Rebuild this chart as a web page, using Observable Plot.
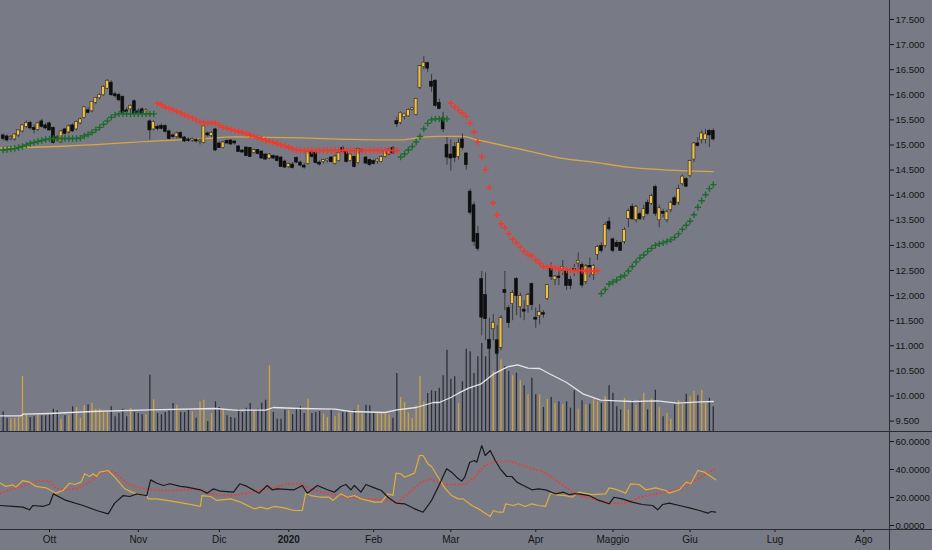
<!DOCTYPE html>
<html><head><meta charset="utf-8">
<script src="https://cdn.jsdelivr.net/npm/d3@7"></script>
<script src="https://cdn.jsdelivr.net/npm/@observablehq/plot@0.6"></script>
<style>
html,body{margin:0;padding:0;background:#787b86;}
#chart{position:relative;width:932px;height:550px;background:#787b86;overflow:hidden;font-family:"Liberation Sans",Arial,sans-serif;}
#chart svg{position:absolute;left:0;}
.vline{position:absolute;left:889px;top:0;width:1px;height:550px;background:#2a2c33;}
.hline{position:absolute;left:0;width:932px;height:1px;background:#2a2c33;}
</style></head><body><div id="chart"></div>
<script>
// ---------------- DATA ----------------
const firstIndex = -12; // trading-day index of first candle (0 = 1 Oct 2019)
const open = [
15.18,15.16,15.14,15.12,15.20,15.28,15.37,15.43,15.33,15.31,
15.46,15.38,15.42,15.33,15.14,15.06,15.30,15.26,15.38,15.32,
15.44,15.55,15.68,15.68,15.85,15.94,16.00,16.13,16.23,16.00,
15.99,15.95,15.68,15.72,15.86,15.66,15.70,15.63,15.46,15.32,
15.35,15.37,15.37,15.26,15.18,15.17,15.23,15.14,15.10,15.10,
15.09,15.08,15.05,15.22,15.19,15.30,15.02,14.95,15.07,15.08,
15.06,14.96,14.88,14.94,14.93,14.85,14.89,14.86,14.80,14.74,
14.77,14.76,14.74,14.66,14.57,14.60,14.73,14.64,14.58,14.63,
14.84,14.83,14.64,14.67,14.69,14.74,14.63,14.69,14.93,14.85,
14.69,14.75,14.65,14.88,14.74,14.69,14.67,14.68,14.67,14.77,
14.82,14.93,15.47,15.45,15.57,15.58,15.71,15.61,16.15,16.56,
16.62,16.25,16.27,15.83,15.52,14.99,14.80,14.95,14.77,15.10,
14.82,14.06,13.79,13.22,12.32,12.00,11.11,11.34,11.10,10.97,
12.10,11.74,11.84,12.32,11.78,11.71,11.80,12.22,11.55,11.60,
11.64,11.94,12.52,12.32,12.37,12.50,12.49,12.30,12.52,12.65,
12.60,12.28,12.58,12.42,12.82,12.98,13.00,13.46,13.11,13.04,
13.04,13.08,13.54,13.76,13.51,13.61,13.57,13.84,13.84,14.15,
13.51,13.66,13.51,13.71,13.93,13.86,14.23,14.31,14.39,14.72,
15.02,15.11,15.11,15.27,15.27];
const high = [
15.22,15.20,15.19,15.23,15.30,15.41,15.48,15.47,15.40,15.45,
15.51,15.43,15.46,15.36,15.18,15.29,15.33,15.40,15.42,15.48,
15.53,15.76,15.74,15.87,15.95,16.02,16.18,16.30,16.28,16.05,
16.03,15.98,15.74,15.80,15.90,15.72,15.74,15.72,15.50,15.48,
15.40,15.42,15.40,15.30,15.22,15.26,15.26,15.17,15.14,15.14,
15.13,15.12,15.40,15.26,15.27,15.33,15.06,15.07,15.10,15.10,
15.08,14.99,14.91,14.96,14.95,14.92,14.91,14.88,14.83,14.83,
14.80,14.79,14.77,14.70,14.64,14.65,14.76,14.68,14.63,14.89,
14.88,14.86,14.68,14.72,14.73,14.77,14.80,14.86,14.97,14.88,
14.83,14.78,14.94,14.92,14.77,14.72,14.70,14.73,14.78,14.90,
14.93,14.97,15.55,15.66,15.63,15.72,15.75,15.93,16.58,16.76,
16.65,16.40,16.30,15.92,15.65,15.15,15.10,15.05,15.12,15.22,
14.85,14.12,13.86,13.38,12.48,12.45,11.55,11.62,11.40,11.60,
12.48,11.80,12.10,12.36,12.05,11.90,12.05,12.25,11.75,11.82,
11.70,12.22,12.65,12.40,12.50,12.70,12.55,12.38,12.62,12.85,
12.65,12.62,12.75,12.62,13.00,13.05,13.45,13.55,13.15,13.10,
13.08,13.35,13.72,13.82,13.80,13.66,13.80,13.90,14.02,14.20,
13.80,13.72,13.70,13.88,13.98,14.20,14.40,14.35,14.70,15.05,
15.15,15.28,15.31,15.31,15.32];
const low = [
15.08,15.06,15.08,15.08,15.15,15.24,15.33,15.30,15.22,15.27,
15.34,15.30,15.27,15.02,15.08,15.03,15.20,15.22,15.25,15.28,
15.40,15.52,15.62,15.64,15.80,15.90,15.97,16.10,15.97,15.93,
15.86,15.60,15.60,15.66,15.58,15.60,15.60,15.60,15.10,15.28,
15.28,15.30,15.24,15.10,15.12,15.12,15.12,15.05,15.05,15.05,
15.04,15.00,15.02,15.16,15.15,14.87,14.93,14.92,15.01,14.99,
15.00,14.85,14.84,14.77,14.75,14.82,14.80,14.72,14.69,14.71,
14.71,14.66,14.55,14.53,14.53,14.52,14.63,14.56,14.52,14.60,
14.74,14.62,14.58,14.62,14.64,14.64,14.60,14.66,14.84,14.64,
14.66,14.54,14.62,14.84,14.61,14.57,14.60,14.62,14.64,14.74,
14.79,14.81,15.35,15.40,15.50,15.55,15.68,15.58,16.10,16.50,
16.45,16.05,15.75,15.70,15.25,14.60,14.48,14.65,14.70,14.90,
14.50,13.60,12.98,12.88,11.20,11.10,10.75,11.10,10.78,10.90,
11.70,11.35,11.50,11.60,11.55,11.50,11.65,11.70,11.35,11.42,
11.55,11.90,12.30,12.20,12.20,12.40,12.10,12.12,12.38,12.50,
12.15,12.22,12.35,12.30,12.70,12.85,12.95,13.28,12.85,12.95,
12.88,13.02,13.35,13.50,13.45,13.50,13.50,13.60,13.80,13.58,
13.35,13.55,13.45,13.65,13.78,13.80,14.18,14.15,14.35,14.65,
14.96,15.02,15.02,14.95,15.08];
const close = [
15.13,15.10,15.15,15.20,15.28,15.38,15.43,15.34,15.31,15.42,
15.37,15.34,15.30,15.05,15.12,15.26,15.23,15.36,15.28,15.45,
15.50,15.74,15.65,15.85,15.93,15.99,16.15,16.27,16.00,15.98,
15.90,15.65,15.66,15.77,15.62,15.65,15.63,15.68,15.30,15.45,
15.33,15.33,15.27,15.13,15.17,15.22,15.15,15.08,15.09,15.11,
15.08,15.08,15.36,15.20,15.23,14.90,14.95,15.04,15.04,15.02,
15.04,14.87,14.86,14.79,14.77,14.89,14.83,14.74,14.72,14.80,
14.74,14.69,14.57,14.56,14.61,14.55,14.66,14.60,14.56,14.86,
14.77,14.65,14.62,14.69,14.70,14.67,14.76,14.83,14.87,14.67,
14.80,14.57,14.91,14.89,14.64,14.61,14.63,14.70,14.75,14.87,
14.90,14.84,15.42,15.63,15.60,15.69,15.72,15.91,16.56,16.63,
16.53,16.17,15.79,15.73,15.32,14.76,14.74,14.75,15.03,14.95,
14.61,13.66,13.08,12.94,11.57,11.54,10.95,11.45,10.85,11.54,
12.06,11.46,12.04,12.00,11.98,11.69,12.00,11.82,11.53,11.66,
11.63,12.20,12.38,12.37,12.36,12.56,12.20,12.20,12.51,12.68,
12.21,12.57,12.57,12.58,12.96,12.90,13.40,13.33,12.90,12.98,
12.90,13.30,13.67,13.53,13.76,13.53,13.71,13.64,13.97,13.64,
13.73,13.64,13.65,13.84,13.81,14.11,14.36,14.18,14.67,15.02,
14.99,15.22,15.20,15.20,15.12];
const volume = [
19.7,13.3,12.7,13.3,14,55,16.7,14,14.7,16.7,
15.7,15.7,16.7,22.3,20.7,11.7,15.7,16.3,24.7,24,
13.3,25.7,26.7,28,22.3,22.3,19,19,24.7,14.7,
18,22.3,14.7,23.3,19,18,16.7,16.7,56.3,31.7,
18,16.7,19,20.7,28,26.3,19,19,22.3,19.7,
13.3,29.7,31.3,10,18,29.7,24,22.3,15.7,14,
13.3,22.3,19,23.3,28,20.7,22.3,28.3,31.3,65.7,
19,12.3,12.3,21.3,20.7,16.7,22.3,24.7,18,32.3,
18,19,20,17.3,14,21.7,14.7,18,19,20.7,
18,21.3,26.3,17.3,26.3,25.7,19,19,18,17.3,
16.7,13.3,58,34,29,18.3,13,25.7,54.7,29.7,
38,40.7,40,43.3,55.7,81.3,52.3,54.7,28,49.7,
82.3,79.7,58,74.7,88,74.7,86,60,84,71.7,
65,60,55.7,58.3,50.7,45.7,36.7,53.3,36.7,36.7,
24,32.3,34,28,29.7,27.3,29.7,23.3,40.7,22.3,
30.7,26.7,27.3,32.3,29.7,28,34.7,45.7,38.3,24.7,
21.7,33,21.7,30.7,26.3,31.3,38.3,21.7,32.3,41.3,
24,14.7,18,12.3,26.7,30.7,26.7,37.3,34.7,40,
35.7,41.3,28,33.3,24.7];

// Parabolic SAR: [start index, values]
const sarBull = [
 [-12,[14.90,14.91,14.92,14.93,14.95,14.97,15.00,15.03,15.05,15.07,15.09,15.11,15.12,15.13,15.13,15.13,15.13,15.13,15.13,15.13,15.14,15.18,15.21,15.25,15.30,15.35,15.41,15.48,15.55,15.60,15.62,15.62,15.62,15.62,15.62,15.62,15.62,15.62,15.62,15.62]],
 [91,[14.76,14.82,14.90,14.97,15.06,15.17,15.32,15.43,15.50,15.52,15.52,15.52,15.52]],
 [143,[12.04,12.12,12.23,12.27,12.31,12.37,12.40,12.49,12.58,12.67,12.75,12.81,12.88,12.94,13.00,13.03,13.05,13.08,13.11,13.16,13.23,13.32,13.40,13.48,13.61,13.76,13.89,14.01,14.13,14.21]]
];
const sarBear = [
 [28,[15.83,15.80,15.76,15.73,15.70,15.67,15.64,15.60,15.57,15.54,15.50,15.46,15.44,15.44,15.44,15.44,15.39,15.35,15.33,15.31,15.29,15.27,15.25,15.23,15.20,15.17,15.15,15.12,15.09,15.07,15.05,15.03,15.00,14.98,14.95,14.92,14.90,
   14.89,14.89,14.89,14.89,14.89,14.89,14.89,14.89,14.89,14.89,14.89,14.89,14.89,14.89,14.89,14.89,14.89,14.89,14.89,14.89,14.89,14.89,14.89,14.89,14.89,14.89]],
 [104,[15.83,15.76,15.69,15.64,15.57,15.43,15.26,15.06,14.77,14.51,14.15,13.85,13.61,13.43,13.35,13.23,13.12,13.05,12.96,12.88,12.82,12.79,12.71,12.65,12.58,12.57,12.57,12.55,12.53,12.52,12.51,12.51,12.50,12.50,12.50,12.49,12.49,12.49,12.49]]
];

// moving averages: [index, value]
const priceMA = [[-12.7,14.94],[5,14.98],[28,15.08],[39,15.12],[48,15.16],[65,15.14],[78,15.11],[91,15.10],[96,15.15],[101,15.17],[107,15.17],[111,15.10],[118.7,14.97],[125.4,14.86],[132.4,14.74],[141,14.66],[149.8,14.56],[158.3,14.51],[166.9,14.48],[172,14.47]];
const volumeMA = [[-12.7,15.7],[-7.5,15.7],[-6.7,17.3],[0,18],[11,20],[26,21.7],[43,23],[48,21.3],[56,21.3],[58,24],[65,23],[74,22.3],[78,20],[87,19],[90,21.7],[95,24],[99.5,29],[101,29],[104,34],[106,38.3],[108.6,43.3],[111.7,47.3],[115,57.3],[118.7,64.7],[121.3,66.7],[124,63.3],[127,63],[129.8,57.3],[134,49],[138.4,37.3],[142.8,31.3],[147,30.7],[151,30],[157.5,30.7],[162.7,28.3],[168.7,29.7],[172,30]];

// lower pane (DMI): [index, value]
const diPlus = [[-12.7,30.2],[-11.3,27.9],[-9.5,29.0],[-8.7,27.4],[-6.9,32.1],[-5.2,31.0],[-3.5,27.9],[-0.9,26.9],[1.7,23.1],[3.5,25.0],[5.2,30.2],[6.5,29.3],[8.2,31.0],[9.1,36.9],[10.4,35.0],[11.3,36.9],[12.2,35.0],[13.0,38.1],[15.2,39.3],[16.9,34.5],[19.5,26.2],[21.7,23.3],[25.2,21.4],[25.6,19.0],[27.8,19.0],[30.4,17.9],[34.7,16.0],[39.1,13.6],[39.5,21.4],[41.7,20.7],[43.4,17.9],[46.9,19.0],[49.5,16.7],[53.0,11.9],[54.7,13.1],[56.4,11.9],[58.2,13.6],[60.8,12.6],[63.4,10.7],[65.5,10.7],[66.4,23.1],[67.7,21.4],[70.3,20.2],[72.5,20.2],[73.4,17.9],[75.5,22.6],[77.3,20.2],[79.0,21.4],[80.7,19.0],[82.5,17.9],[84.2,16.7],[86.0,16.7],[87.7,22.6],[89.0,21.4],[89.8,37.4],[91.1,36.9],[92.0,34.5],[94.6,37.4],[95.9,50.0],[96.8,50.0],[98.1,44.0],[99.0,42.1],[100.7,34.5],[102.4,26.9],[104.2,21.4],[105.9,19.0],[107.2,19.0],[109.4,14.3],[111.1,11.9],[112.9,8.8],[114.2,6.4],[115.0,10.7],[116.3,9.5],[117.6,9.5],[118.2,15.5],[120.2,14.3],[121.5,15.5],[123.3,13.6],[125.0,15.5],[126.7,14.3],[128.5,13.6],[129.8,23.1],[131.5,21.9],[133.7,21.4],[135.4,20.2],[137.2,23.8],[140.6,22.1],[144.1,22.6],[145.0,26.9],[146.3,26.2],[147.6,25.0],[149.3,23.1],[150.6,29.8],[152.8,29.3],[154.5,25.5],[157.1,26.9],[159.7,25.0],[160.6,23.1],[163.2,25.5],[165.0,31.0],[166.2,29.8],[168.0,39.3],[169.7,38.1],[171.0,35.7],[172.6,32.6]];
const diMinus = [[-12.7,14.3],[-9.5,13.6],[-6.9,13.1],[-5.2,11.2],[-4.3,14.3],[-1.7,13.6],[0.0,15.2],[1.0,22.6],[4.3,17.9],[8.7,14.3],[12.2,10.7],[15.2,8.3],[16.9,16.0],[19.1,21.4],[20.8,20.7],[22.6,22.6],[25.2,21.4],[26.2,32.6],[27.8,30.2],[29.5,28.6],[31.2,29.8],[33.9,27.9],[35.6,27.4],[39.1,25.5],[40.8,23.1],[42.5,26.2],[44.3,24.5],[47.7,23.8],[49.3,29.8],[51.2,27.9],[54.3,23.1],[56.4,28.6],[57.7,25.5],[59.0,26.2],[63.4,25.5],[65.5,28.6],[66.8,23.1],[69.4,28.6],[72.0,25.5],[73.8,23.8],[75.5,27.9],[76.8,29.3],[78.1,25.5],[79.0,28.6],[80.7,23.8],[82.0,29.3],[84.2,26.9],[86.0,25.0],[87.7,20.2],[89.8,16.0],[92.0,15.5],[94.6,11.9],[96.8,9.5],[98.1,14.3],[99.0,17.9],[100.7,27.4],[102.9,40.5],[104.2,38.1],[105.5,34.5],[106.8,31.7],[107.6,34.5],[108.9,45.2],[110.1,46.4],[110.7,45.2],[112.0,57.1],[112.9,50.0],[114.2,53.6],[115.5,46.4],[116.8,40.5],[118.5,35.0],[119.8,35.0],[121.1,31.0],[122.8,28.6],[125.0,25.5],[126.7,26.2],[128.5,25.5],[131.1,22.6],[133.2,23.8],[134.6,22.1],[135.9,22.6],[137.2,22.6],[139.8,21.4],[142.4,17.9],[145.0,15.5],[146.3,20.2],[148.4,19.0],[151.0,16.7],[153.6,15.0],[156.3,14.3],[157.6,11.2],[158.9,15.0],[160.6,16.0],[163.2,14.3],[165.8,12.6],[168.4,10.7],[170.6,8.8],[171.4,10.0],[172.6,9.5]];
const adx = [[-12.7,23.1],[-10.4,25.5],[-7.8,27.4],[-5.2,30.2],[-2.6,31.7],[0,31.7],[1.7,26.5],[4.3,25.5],[7.8,26.9],[10.4,31.0],[13.0,36.9],[15.6,39.3],[17.4,36.9],[20.0,30.2],[22.6,26.9],[25.2,26.2],[28.6,25.0],[32.1,25.0],[35.6,25.5],[39.1,25.5],[41.7,22.6],[44.3,21.4],[47.7,21.4],[51.2,23.1],[54.7,25.5],[58.2,26.9],[61.6,29.8],[65.1,29.8],[67.7,26.2],[70.3,23.8],[73.8,22.1],[77.3,20.2],[80.7,19.0],[84.2,19.0],[87.7,17.9],[90.3,16.7],[92.9,22.6],[96.4,31.0],[99.0,33.3],[101.6,29.3],[104.2,29.3],[107.6,29.3],[110.2,34.5],[112.8,42.9],[115.5,46.0],[118.9,46.0],[121.5,44.0],[125.0,40.5],[127.6,38.8],[130.2,34.5],[133.7,27.4],[137.2,21.4],[140.6,19.0],[144.1,16.7],[147.6,15.5],[150.2,16.7],[152.8,20.2],[156.3,22.1],[159.7,23.8],[162.3,25.5],[165.0,28.6],[167.5,32.6],[170.1,36.9],[172.6,40.5]];

// axis ticks
const priceTicks = [9.5,10,10.5,11,11.5,12,12.5,13,13.5,14,14.5,15,15.5,16,16.5,17,17.5];
const dmiTicks = [0,20,40,60];
const monthLabels = ["Ott","Nov","Dic","2020","Feb","Mar","Apr","Maggio","Giu","Lug","Ago"];
const monthIdx = [0,23,44,62,84,104,126,146,166,188,211];

// ---------------- BUILD ----------------
const candles = open.map((o, k) => ({i: firstIndex + k, open: o, high: high[k], low: low[k], close: close[k], volume: volume[k], up: close[k] >= o}));
const expand = (segs) => segs.flatMap(([s, vals]) => vals.map((v, k) => ({i: s + k, v})));
const bull = expand(sarBull), bear = expand(sarBear);

const X_DOMAIN = [-12.7, 217.67];
const FONT = '"Liberation Sans", Arial, sans-serif';
const chart = document.getElementById("chart");

const volPlot = Plot.plot({
  width: 889, height: 432, marginLeft: 0, marginRight: 0, marginTop: 331, marginBottom: 1,
  x: {domain: X_DOMAIN, axis: null},
  y: {domain: [0, 100], axis: null},
  style: {background: "transparent"},
  marks: [
    Plot.ruleX(candles, {x: "i", y1: 0, y2: "volume", stroke: d => d.up ? "#cfa23c" : "#2c2e36", strokeWidth: 1.3}),
    Plot.line(volumeMA, {x: d => d[0], y: d => d[1], stroke: "#e4e4e6", strokeWidth: 1.3})
  ]
});
volPlot.style.top = "0px";
chart.appendChild(volPlot);

const pricePlot = Plot.plot({
  width: 932, height: 432, marginLeft: 0, marginRight: 43, marginTop: 0, marginBottom: 0,
  x: {domain: X_DOMAIN, axis: null},
  y: {domain: [9.273, 17.878]},
  style: {background: "transparent", color: "#151515", fontSize: "9.5px", fontFamily: FONT},
  marks: [
    Plot.axisY({ticks: priceTicks, anchor: "right", tickFormat: d3.format(".3f"), tickSize: 4, tickPadding: 2}),
    Plot.line(priceMA, {x: d => d[0], y: d => d[1], stroke: "#d9a446", strokeWidth: 1.3, curve: "monotone-x"}),
    Plot.ruleX(candles, {x: "i", y1: "low", y2: "high", stroke: "#3a3a3a", strokeWidth: 1}),
    Plot.rect(candles, {x1: d => d.i - 0.38, x2: d => d.i + 0.38, y1: "open", y2: "close",
      fill: d => d.up ? "#f2c13f" : "#0e0e0e", stroke: d => d.up ? "#2a2a2a" : "#0e0e0e", strokeWidth: 0.6,
      insetTop: -0.5, insetBottom: -0.5}),
    Plot.dot(bull, {x: "i", y: "v", symbol: "plus", r: 2.2, stroke: "#1d6a2c", strokeWidth: 1.4}),
    Plot.dot(bear, {x: "i", y: "v", symbol: "plus", r: 2.2, stroke: "#f03b2c", strokeWidth: 1.4})
  ]
});
pricePlot.style.top = "0px";
chart.appendChild(pricePlot);

const lowerPlot = Plot.plot({
  width: 932, height: 118, marginLeft: 0, marginRight: 43, marginTop: 0, marginBottom: 21,
  x: {domain: X_DOMAIN},
  y: {domain: [-2.86, 66.43]},
  style: {background: "transparent", color: "#151515", fontSize: "9.5px", fontFamily: FONT},
  marks: [
    Plot.axisY({ticks: dmiTicks, anchor: "right", tickFormat: d3.format(".4f"), tickSize: 4, tickPadding: 2}),
    Plot.axisX({ticks: monthIdx, anchor: "bottom", tickSize: 3, tickPadding: 3,
      tickFormat: d => monthLabels[monthIdx.indexOf(d)], fontSize: 10}),
    Plot.line(adx, {x: d => d[0], y: d => d[1], stroke: "#f03b2c", strokeWidth: 1.9, strokeDasharray: "0.1 3.6", strokeLinecap: "round"}),
    Plot.line(diPlus, {x: d => d[0], y: d => d[1], stroke: "#e2ad3a", strokeWidth: 1.2}),
    Plot.line(diMinus, {x: d => d[0], y: d => d[1], stroke: "#1a1a1a", strokeWidth: 1.2})
  ]
});
lowerPlot.style.top = "432px";
chart.appendChild(lowerPlot);
d3.select(lowerPlot).selectAll("text").filter(function(){ return this.textContent === "2020"; }).attr("font-weight", "bold");

// panel borders
for (const [cls, top] of [["hline", 431], ["hline", 529]]) {
  const d = document.createElement("div"); d.className = cls; d.style.top = top + "px"; chart.appendChild(d);
}
const v = document.createElement("div"); v.className = "vline"; chart.appendChild(v);
</script></body></html>
